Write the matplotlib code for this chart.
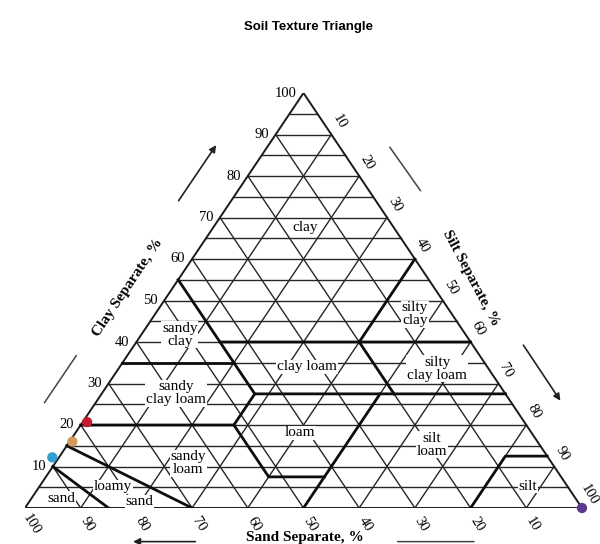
import matplotlib
matplotlib.use('Agg')
import matplotlib.pyplot as plt

# ternary helper: (sand, silt, clay) -> x, y on the drawing
def tern(sand, silt, clay):
    return silt + clay / 2.0, clay

# texture class boundary lines, each as (sand, silt, clay) points
boundaries = [
    [(45, 0, 55), (45, 15, 40), (20, 40, 40), (0, 60, 40)],
    [(20, 40, 40), (0, 40, 60)],
    [(65, 0, 35), (45, 20, 35)],
    [(45, 15, 40), (45, 27.5, 27.5), (0, 72.5, 27.5)],
    [(20, 40, 40), (20, 52.5, 27.5)],
    [(80, 0, 20), (52.5, 27.5, 20), (45, 27.5, 27.5)],
    [(52.5, 27.5, 20), (52.5, 40, 7.5), (42.5, 50, 7.5)],
    [(50, 50, 0), (22.5, 50, 27.5)],
    [(85, 0, 15), (70, 30, 0)],
    [(90, 0, 10), (85, 15, 0)],
    [(0, 87.5, 12.5), (7.5, 80, 12.5), (20, 80, 0)],
]

class_names = ['clay', 'sandy\nclay', 'silty\nclay', 'sandy\nclay loam', 'clay loam',
               'silty\nclay loam', 'loam', 'silt\nloam', 'sandy\nloam', 'loamy', 'sand', 'sand', 'silt']
class_x = [50.3, 27.8, 70.0, 27.1, 50.6, 74.0, 49.4, 73.1, 29.3, 15.8, 20.6, 6.6, 90.3]
class_y = [67.5, 41.7, 46.7, 27.7, 34.0, 33.5, 18.1, 15.2, 10.8, 5.1, 1.5, 2.4, 5.3]

ticks = [10, 20, 30, 40, 50, 60, 70, 80, 90, 100]

# sample points (sand, silt, clay)
pt_sand = [78.5, 83.5, 89, 0]
pt_silt = [0.8, 0.5, -1.2, 100]
pt_clay = [20.7, 16, 12.2, 0]
pt_colors = ['#c41a30', '#d49a5c', '#35a0d0', '#5b3a8e']

serif = 'Liberation Serif'
grid_col = '#262626'

fig = plt.figure(figsize=(6, 5.44), dpi=100)
ax = fig.add_axes([25 / 600, 36 / 544, 557 / 600, 415 / 544])
ax.set_xlim(0, 100)
ax.set_ylim(0, 100)
ax.axis('off')

# grid: horizontal clay lines every 5 %
for c in range(5, 100, 5):
    x0, y0 = tern(100 - c, 0, c)
    x1, y1 = tern(0, 100 - c, c)
    ax.plot([x0, x1], [y0, y1], color=grid_col, lw=1.0, zorder=1)
# constant sand and constant silt lines every 10 %
for v in range(10, 100, 10):
    x0, y0 = tern(v, 100 - v, 0)
    x1, y1 = tern(v, 0, 100 - v)
    ax.plot([x0, x1], [y0, y1], color=grid_col, lw=1.0, zorder=1)
    x0, y0 = tern(100 - v, v, 0)
    x1, y1 = tern(0, v, 100 - v)
    ax.plot([x0, x1], [y0, y1], color=grid_col, lw=1.0, zorder=1)

# outer triangle
corners = [tern(100, 0, 0), tern(0, 100, 0), tern(0, 0, 100), tern(100, 0, 0)]
ax.plot([p[0] for p in corners], [p[1] for p in corners], color='#1a1a1a', lw=1.4, zorder=2)

for line in boundaries:
    pts = [tern(*p) for p in line]
    ax.plot([p[0] for p in pts], [p[1] for p in pts], color='#0d0d0d', lw=2.0, zorder=3)

for name, x, y in zip(class_names, class_x, class_y):
    ax.text(x, y, name, family=serif, fontsize=11, ha='center', va='center',
            linespacing=0.95, zorder=4,
            bbox=dict(boxstyle='square,pad=0.05', fc='white', ec='none'))

# tick labels
for t in ticks:
    ax.annotate(str(t), tern(100 - t, 0, t), xytext=(-5, 0), textcoords='offset points',
                ha='right', va='center', family=serif, fontsize=10.5, annotation_clip=False)
    ax.annotate(str(t), tern(0, t, 100 - t), xytext=(5.5, 9.5), textcoords='offset points',
                ha='center', va='center', rotation=-60, family=serif, fontsize=10.5,
                annotation_clip=False)
    ax.annotate(str(t), tern(t, 100 - t, 0), xytext=(4.5, -12), textcoords='offset points',
                ha='center', va='center', rotation=-58, family=serif, fontsize=10.5,
                annotation_clip=False)

# axis titles
ax.text(18.5, 53.2, 'Clay Separate, %', family=serif, fontsize=11, fontweight='bold',
        rotation=56, ha='center', va='center')
ax.text(80.0, 55.5, 'Silt Separate, %', family=serif, fontsize=11, fontweight='bold',
        rotation=-62, ha='center', va='center')
ax.text(50.3, -5.6, 'Sand Separate, %', family=serif, fontsize=11, fontweight='bold',
        ha='center', va='top', clip_on=False)

# arrows and guide lines beside the titles
arrow = dict(arrowstyle='-|>', color='#222222', lw=1.2, mutation_scale=10)
plain = dict(arrowstyle='-', color='#444444', lw=1.1)
ax.annotate('', xy=(34.6, 88.0), xytext=(27.3, 73.5), arrowprops=arrow, annotation_clip=False)
ax.annotate('', xy=(9.5, 37.3), xytext=(3.2, 24.8), arrowprops=plain, annotation_clip=False)
ax.annotate('', xy=(71.3, 75.9), xytext=(65.2, 87.5), arrowprops=plain, annotation_clip=False)
ax.annotate('', xy=(96.4, 25.3), xytext=(89.2, 39.8), arrowprops=arrow, annotation_clip=False)
ax.annotate('', xy=(18.9, -8.1), xytext=(31.1, -8.1), arrowprops=arrow, annotation_clip=False)
ax.annotate('', xy=(81.1, -8.1), xytext=(66.4, -8.1), arrowprops=plain, annotation_clip=False)

# sample points
px, py = zip(*[tern(s, si, c) for s, si, c in zip(pt_sand, pt_silt, pt_clay)])
ax.scatter(px, py, s=55, c=pt_colors, zorder=6, clip_on=False, edgecolors='none')

fig.text(0.515, 1 - 27 / 544, 'Soil Texture Triangle', ha='center', va='center',
         family='Liberation Sans', fontsize=9.5, fontweight='bold')

fig.savefig('out.png', dpi=100)
